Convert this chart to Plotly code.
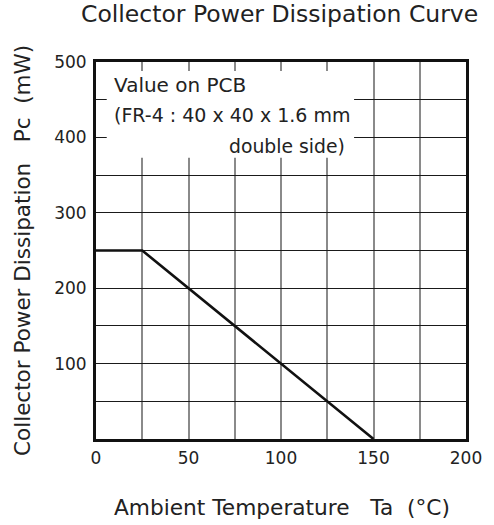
import plotly.graph_objects as go

# Data
temperature = [0, 25, 150]          # Ta (°C)
power = [250, 250, 0]               # Pc (mW)
x_tick_vals = [0, 25, 50, 75, 100, 125, 150, 175, 200]
x_tick_text = ["0", "", "50", "", "100", "", "150", "", "200"]
y_tick_vals = [0, 50, 100, 150, 200, 250, 300, 350, 400, 450, 500]
y_tick_text = ["", "", "100", "", "200", "", "300", "", "400", "", "500"]

FONT = "DejaVu Sans, Arial, sans-serif"
NB = "\u00a0"

fig = go.Figure()
fig.add_trace(go.Scatter(
    x=temperature, y=power, mode="lines",
    line=dict(color="#111111", width=2.6),
    showlegend=False, hoverinfo="skip",
))

# white box behind the annotation text (hides grid)
fig.add_shape(type="rect", xref="x", yref="y", x0=5.8, x1=139.5, y0=373, y1=488,
              fillcolor="white", line=dict(width=0), layer="between")

fig.add_annotation(x=8.9, y=469.5, xref="x", yref="y", text="Value on PCB",
                   showarrow=False, xanchor="left", yanchor="middle",
                   font=dict(family=FONT, size=20, color="#222222"))
fig.add_annotation(x=8.9, y=429.7, xref="x", yref="y", text="(FR-4 : 40 x 40 x 1.6 mm",
                   showarrow=False, xanchor="left", yanchor="middle",
                   font=dict(family=FONT, size=19, color="#222222"))
fig.add_annotation(x=135.8, y=387.3, xref="x", yref="y", text="double side)",
                   showarrow=False, xanchor="right", yanchor="middle",
                   font=dict(family=FONT, size=18.8, color="#222222"))

# titles (positions given in pixels, converted to paper below)
fig.add_annotation(x=284, y=14, xref="paper", yref="paper", text="Collector Power Dissipation Curve",
                   showarrow=False, xanchor="center", yanchor="middle",
                   font=dict(family=FONT, size=23.5, color="#222222"))
fig.add_annotation(x=287, y=507, xref="paper", yref="paper",
                   text="Ambient Temperature" + NB * 3 + "Ta" + NB * 2 + "(°C)",
                   showarrow=False, xanchor="center", yanchor="middle",
                   font=dict(family=FONT, size=21.7, color="#222222"))
fig.add_annotation(x=21, y=250, xref="paper", yref="paper",
                   text="Collector Power Dissipation" + NB * 3 + "Pc" + NB * 2 + "(mW)",
                   textangle=-90, showarrow=False, xanchor="center", yanchor="middle",
                   font=dict(family=FONT, size=21.5, color="#222222"))

W, H = 494, 525
L, R, T, B = 96, 18, 62, 86
for a in fig.layout.annotations:
    if a.xref == "paper":
        a.x = (a.x - L) / (W - L - R)
        a.y = 1 - (a.y - T) / (H - T - B)

fig.update_layout(
    width=W, height=H,
    margin=dict(l=L, r=R, t=T, b=B, pad=0),
    plot_bgcolor="white", paper_bgcolor="white",
    font=dict(family=FONT, size=17, color="#222222"),
    xaxis=dict(range=[0, 200], tickmode="array", tickvals=x_tick_vals, ticktext=x_tick_text,
               showgrid=True, gridcolor="#8a8a8a", gridwidth=1.5,
               showline=True, linecolor="#111111", linewidth=3, mirror=True,
               ticks="", ticklabelstandoff=2, zeroline=False, fixedrange=True),
    yaxis=dict(range=[0, 500], tickmode="array", tickvals=y_tick_vals, ticktext=y_tick_text,
               showgrid=True, gridcolor="#1a1a1a", gridwidth=1.2,
               showline=True, linecolor="#111111", linewidth=3, mirror=True,
               ticks="", ticklabelstandoff=3, zeroline=False, fixedrange=True),
)

fig.write_html("out.html")
